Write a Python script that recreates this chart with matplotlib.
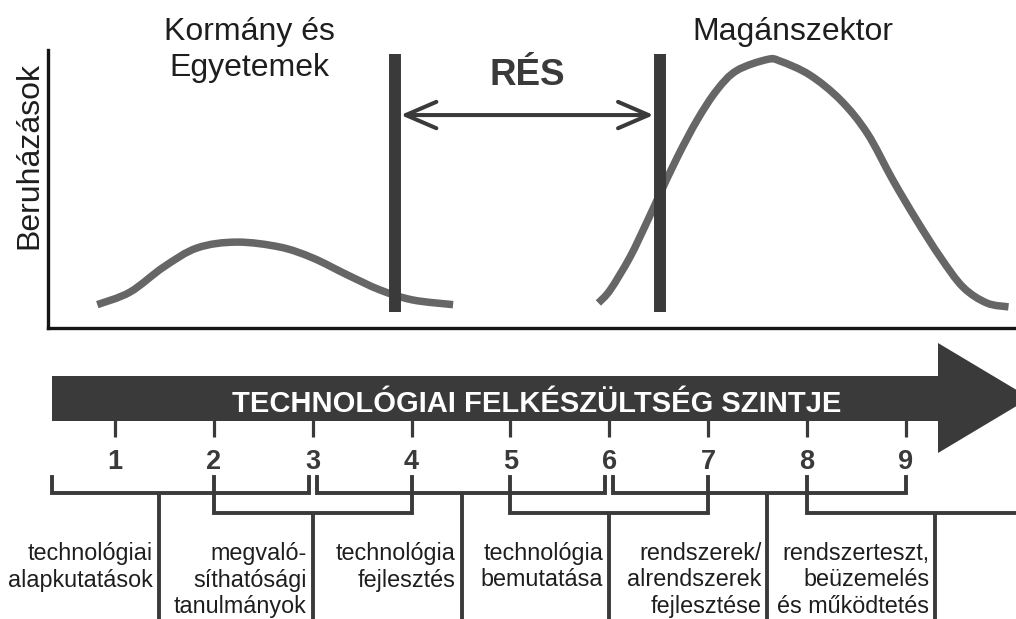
import matplotlib
matplotlib.use('Agg')
import matplotlib.pyplot as plt
from matplotlib.patches import FancyArrowPatch, Polygon, ArrowStyle, PathPatch
from matplotlib.path import Path
from matplotlib.transforms import ScaledTranslation

plt.rcParams['font.family'] = ['Liberation Sans', 'DejaVu Sans']

# ---------------- data ----------------
trl_levels = [1, 2, 3, 4, 5, 6, 7, 8, 9]
axis_title = 'TECHNOLÓGIAI FELKÉSZÜLTSÉG SZINTJE'
y_label = 'Beruházások'
gov_label = 'Kormány és\nEgyetemek'
private_label = 'Magánszektor'
gap_label = 'RÉS'

# Government / universities investment curve (x in TRL, y relative investment 0..100)
gov_trl = [0.82, 1.15, 1.49, 1.83, 2.23, 2.67, 3.00, 3.35, 3.68, 4.01, 4.42]
gov_invest = [8.4, 12.9, 21.9, 28.8, 30.9, 29.1, 25.2, 19.1, 13.7, 10.1, 8.4]

# Private sector investment curve
private_trl = [5.89, 6.01, 6.21, 6.38, 6.51, 6.69, 6.89, 7.09, 7.29, 7.60,
               7.73, 8.03, 8.34, 8.61, 8.87, 9.11, 9.35, 9.58, 9.82, 10.04]
private_invest = [9.0, 13.7, 25.5, 38.0, 48.0, 61.5, 74.8, 85.6, 92.6, 96.6,
                  96.0, 91.0, 82.0, 70.1, 53.2, 38.8, 25.5, 14.7, 9.0, 7.6]

# The funding gap boundaries (TRL)
gap_bounds = [3.83, 6.51]

# Development stages (TRL ranges)
stage_labels = [
    'technológiai\nalapkutatások',
    'megvaló-\nsíthatósági\ntanulmányok',
    'technológia\nfejlesztés',
    'technológia\nbemutatása',
    'rendszerek/\nalrendszerek\nfejlesztése',
    'rendszerteszt,\nbeüzemelés\nés működtetés',
]
stage_start = [0.36, 2, 3, 5, 6, 8]
stage_end = [3, 4, 6, 7, 9, 10.6]
stage_stem = [1.44, 3, 4.51, 6, 7.6, 9.3]
stage_row = [0, 1, 0, 1, 0, 1]

# ---------------- layout / style ----------------
W, H = 1016, 619
PX5, PXS = 510.4, 98.83          # pixel x of TRL 5, pixels per TRL


def t(px):
    return 5 + (px - PX5) / PXS


def smooth_path(xs, ys):
    """Smooth drawing path (cubic Bezier segments) through the given points."""
    pts = list(zip(xs, ys))
    n = len(pts)
    verts = [pts[0]]
    codes = [Path.MOVETO]
    for i in range(n - 1):
        p0 = pts[i - 1] if i > 0 else pts[i]
        p1 = pts[i]
        p2 = pts[i + 1]
        p3 = pts[i + 2] if i + 2 < n else pts[i + 1]
        c1 = (p1[0] + (p2[0] - p0[0]) / 6, p1[1] + (p2[1] - p0[1]) / 6)
        c2 = (p2[0] - (p3[0] - p1[0]) / 6, p2[1] - (p3[1] - p1[1]) / 6)
        verts += [c1, c2, p2]
        codes += [Path.CURVE4] * 3
    return Path(verts, codes)


dark = '#3a3a3a'
curve_col = '#666666'
text_col = '#1e1e1e'

fig = plt.figure(figsize=(W / 100, H / 100), dpi=100)

# background axes covering the whole figure (x: TRL, y: pixel rows)
axb = fig.add_axes([0, 0, 1, 1])
axb.set_xlim(t(0), t(W))
axb.set_ylim(H, 0)
axb.axis('off')

# top investment chart
ax = fig.add_axes([48 / W, 1 - 328 / H, 1 - 48 / W, (328 - 50) / H])
ax.set_xlim(t(48), t(W))
ax.set_ylim(0, 100)
ax.patch.set_alpha(0)
for s in ['top', 'right']:
    ax.spines[s].set_visible(False)
for s in ['left', 'bottom']:
    ax.spines[s].set_linewidth(2.4)
    ax.spines[s].set_color('#151515')
    ax.spines[s].set_capstyle('projecting')
ax.set_xticks([])
ax.set_yticks([])
ax.set_ylabel(y_label, fontsize=23, color=text_col)
ax.yaxis.set_label_coords(-0.004, 0.622)

for xs, ys in [(gov_trl, gov_invest), (private_trl, private_invest)]:
    ax.add_patch(PathPatch(smooth_path(xs, ys), facecolor='none',
                           edgecolor=curve_col, lw=5.4, capstyle='butt',
                           joinstyle='round', zorder=2))

for gx in gap_bounds:
    ax.plot([gx, gx], [5.8, 98.6], color=dark, lw=8.6,
            solid_capstyle='butt', zorder=3)

arrow = FancyArrowPatch((gap_bounds[0], 76.6), (gap_bounds[1], 76.6),
                        arrowstyle=ArrowStyle('<->', head_length=22, head_width=9.5),
                        mutation_scale=1, lw=2.9, color=dark,
                        shrinkA=4.3, shrinkB=4.3, zorder=3)
ax.add_patch(arrow)

# labels above chart
axb.text(t(249), 40, gov_label.split('\n')[0], ha='center', va='baseline',
         fontsize=23, color=text_col)
axb.text(t(249), 76, gov_label.split('\n')[1], ha='center', va='baseline',
         fontsize=23, color=text_col)
axb.text(t(793), 40, private_label, ha='center', va='baseline',
         fontsize=23, color=text_col)
axb.text(sum(gap_bounds) / 2, 85, gap_label, ha='center', va='baseline',
         fontsize=26.5, fontweight='bold', color=dark)

# big TRL arrow
poly = Polygon([(t(52), 376), (t(938), 376), (t(938), 343), (t(1030), 398),
                (t(938), 453), (t(938), 421), (t(52), 421)],
               closed=True, facecolor=dark, edgecolor='none')
axb.add_patch(poly)
axb.text(t(537), 412, axis_title, ha='center', va='baseline',
         fontsize=21, fontweight='bold', color='white')

# ticks and numbers
for n in trl_levels:
    axb.plot([n, n], [420, 437], color=dark, lw=2.3, solid_capstyle='butt')
    axb.text(n, 469, str(n), ha='center', va='baseline', fontsize=19.5,
             fontweight='bold', color=dark)

# brackets
gap = 4 / PXS
top_y = 477
row_y = [493, 513]
for i, lab in enumerate(stage_labels):
    r = stage_row[i]
    x0, x1 = stage_start[i], stage_end[i]
    for j in range(len(stage_labels)):
        if j != i and stage_row[j] == r:
            if stage_end[j] == x0:
                x0 += gap
            if stage_start[j] == stage_end[i]:
                x1 -= gap
    hy = row_y[r]
    axb.plot([x0, x0, x1, x1], [top_y, hy, hy, top_y], color=dark, lw=2.8,
             solid_joinstyle='miter', solid_capstyle='projecting')
    axb.plot([stage_stem[i], stage_stem[i]], [hy, H + 5], color=dark, lw=2.8,
             solid_capstyle='butt')
    off = axb.transData + ScaledTranslation(-6 / 100, 0, fig.dpi_scale_trans)
    for k, line in enumerate(lab.split('\n')):
        axb.text(stage_stem[i], 560 + k * 26.5, line, ha='right', va='baseline',
                 fontsize=16.8, color=text_col, transform=off)

fig.savefig('out.png', dpi=100)
